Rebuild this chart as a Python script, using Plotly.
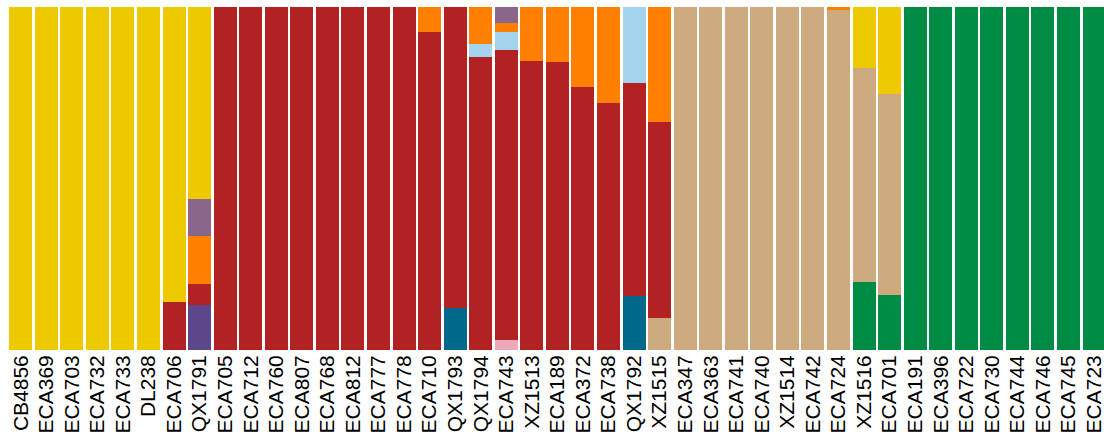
import plotly.graph_objects as go

# Strain names along the x axis
strains = [
    "CB4856", "ECA369", "ECA703", "ECA732", "ECA733", "DL238", "ECA706", "QX1791",
    "ECA705", "ECA712", "ECA760", "ECA807", "ECA768", "ECA812", "ECA777", "ECA778",
    "ECA710", "QX1793", "QX1794", "ECA743", "XZ1513", "ECA189", "ECA372", "ECA738",
    "QX1792", "XZ1515", "ECA347", "ECA363", "ECA741", "ECA740", "XZ1514", "ECA742",
    "ECA724", "XZ1516", "ECA701", "ECA191", "ECA396", "ECA722", "ECA730", "ECA744",
    "ECA746", "ECA745", "ECA723",
]

# Ancestry fractions per population (one value per strain), stacked bottom to top
pop_purple = [0, 0, 0, 0, 0, 0, 0, 0.131, 0, 0, 0, 0, 0, 0, 0, 0,
              0, 0, 0, 0, 0, 0, 0, 0, 0, 0, 0, 0, 0, 0, 0, 0,
              0, 0, 0, 0, 0, 0, 0, 0, 0, 0, 0]
pop_pink = [0, 0, 0, 0, 0, 0, 0, 0, 0, 0, 0, 0, 0, 0, 0, 0,
            0, 0, 0, 0.030, 0, 0, 0, 0, 0, 0, 0, 0, 0, 0, 0, 0,
            0, 0, 0, 0, 0, 0, 0, 0, 0, 0, 0]
pop_teal = [0, 0, 0, 0, 0, 0, 0, 0, 0, 0, 0, 0, 0, 0, 0, 0,
            0, 0.122, 0, 0, 0, 0, 0, 0, 0.158, 0, 0, 0, 0, 0, 0, 0,
            0, 0, 0, 0, 0, 0, 0, 0, 0, 0, 0]
pop_green = [0, 0, 0, 0, 0, 0, 0, 0, 0, 0, 0, 0, 0, 0, 0, 0,
             0, 0, 0, 0, 0, 0, 0, 0, 0, 0, 0, 0, 0, 0, 0, 0,
             0, 0.198, 0.160, 1, 1, 1, 1, 1, 1, 1, 1]
pop_tan = [0, 0, 0, 0, 0, 0, 0, 0, 0, 0, 0, 0, 0, 0, 0, 0,
           0, 0, 0, 0, 0, 0, 0, 0, 0, 0.094, 1, 1, 1, 1, 1, 1,
           0.99, 0.625, 0.587, 0, 0, 0, 0, 0, 0, 0, 0]
pop_red = [0, 0, 0, 0, 0, 0, 0.14, 0.062, 1, 1, 1, 1, 1, 1, 1, 1,
           0.927, 0.878, 0.854, 0.845, 0.843, 0.840, 0.766, 0.719, 0.620, 0.571, 0, 0, 0, 0, 0, 0,
           0, 0, 0, 0, 0, 0, 0, 0, 0, 0, 0]
pop_lightblue = [0, 0, 0, 0, 0, 0, 0, 0, 0, 0, 0, 0, 0, 0, 0, 0,
                 0, 0, 0.038, 0.052, 0, 0, 0, 0, 0.222, 0, 0, 0, 0, 0, 0, 0,
                 0, 0, 0, 0, 0, 0, 0, 0, 0, 0, 0]
pop_orange = [0, 0, 0, 0, 0, 0, 0, 0.140, 0, 0, 0, 0, 0, 0, 0, 0,
              0.073, 0, 0.108, 0.026, 0.157, 0.160, 0.234, 0.281, 0, 0.335, 0, 0, 0, 0, 0, 0,
              0.01, 0, 0, 0, 0, 0, 0, 0, 0, 0, 0]
pop_mauve = [0, 0, 0, 0, 0, 0, 0, 0.107, 0, 0, 0, 0, 0, 0, 0, 0,
             0, 0, 0, 0.047, 0, 0, 0, 0, 0, 0, 0, 0, 0, 0, 0, 0,
             0, 0, 0, 0, 0, 0, 0, 0, 0, 0, 0]
pop_yellow = [1, 1, 1, 1, 1, 1, 0.86, 0.560, 0, 0, 0, 0, 0, 0, 0, 0,
              0, 0, 0, 0, 0, 0, 0, 0, 0, 0, 0, 0, 0, 0, 0, 0,
              0, 0.177, 0.253, 0, 0, 0, 0, 0, 0, 0, 0]

layers = [
    ("purple", pop_purple, "#5D478B"),
    ("pink", pop_pink, "#EEA9B8"),
    ("teal", pop_teal, "#00688B"),
    ("green", pop_green, "#008B45"),
    ("tan", pop_tan, "#CDAA7D"),
    ("red", pop_red, "#B22222"),
    ("lightblue", pop_lightblue, "#A4D3EE"),
    ("orange", pop_orange, "#FF7F00"),
    ("mauve", pop_mauve, "#8B668B"),
    ("yellow", pop_yellow, "#EEC900"),
]

fig = go.Figure()
for name, vals, color in layers:
    fig.add_trace(go.Bar(
        x=strains, y=vals, name=name,
        marker=dict(color=color, line=dict(width=0)),
    ))

fig.update_layout(
    barmode="stack",
    bargap=0.1,
    showlegend=False,
    width=1104,
    height=437,
    margin=dict(l=8, r=0, t=7, b=87),
    paper_bgcolor="white",
    plot_bgcolor="white",
    font=dict(family="Liberation Sans, Arial, sans-serif", color="black"),
    xaxis=dict(
        type="category",
        range=[-0.5, 42.39],
        tickangle=-90,
        tickfont=dict(size=21, color="black"),
        showgrid=False,
        zeroline=False,
        showline=False,
        ticks="",
    ),
    yaxis=dict(
        range=[0, 1],
        visible=False,
        showgrid=False,
        zeroline=False,
    ),
)

fig.write_html("out.html")
